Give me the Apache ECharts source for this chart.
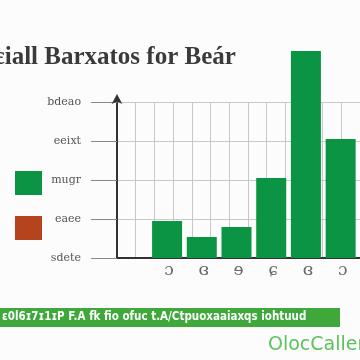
<!DOCTYPE html>
<html><head><meta charset="utf-8">
<script src="https://cdn.jsdelivr.net/npm/echarts@6/dist/echarts.min.js"></script>
<style>html,body{margin:0;padding:0;background:#fcfcfc}#c{width:360px;height:360px}</style>
</head><body><div id="c"></div>
<script>
const titleText = 'ɛiall Barxatos for Beár';
const categories = ['', 'ɔ', 'ɞ', 'ɘ', 'ɕ', 'ɞ', 'ɔ'];
const barValues = ['-', 37, 21, 31, 80, 207, 119];
const yTickLabels = ['sdete', 'eaee', 'mugr', 'eeixt', 'bdeao'];
const legendNames = ['ɡreen', 'red'];
const bannerText = 'ɛ0l6ɪ7ɪ1ɪP F.A fk fio ofuc t.A/Ctpuoxaaiaxqs iohtuud';
const brandText = 'OlocCaller';

const chart = echarts.init(document.getElementById('c'));
chart.setOption({
  backgroundColor: '#fcfcfc',
  animation: false,
  grid: { left: 117, right: 0, top: 102, bottom: 102, containLabel: false },
  legend: {
    orient: 'vertical', left: 10, top: 166, itemWidth: 27, itemHeight: 24, itemGap: 21,
    formatter: () => '', icon: 'rect', selectedMode: false,
    data: legendNames
  },
  xAxis: [{
    type: 'category', data: categories, boundaryGap: true,
    axisLine: { lineStyle: { color: '#333', width: 2 } },
    axisTick: { show: false },
    axisLabel: { color: '#666', fontSize: 17, margin: 4, fontFamily: 'DejaVu Serif' },
    splitLine: { show: false }
  }, {
    type: 'value', min: 0, max: 13, interval: 1, show: true, position: 'bottom',
    axisLine: { show: false }, axisTick: { show: false }, axisLabel: { show: false },
    splitLine: { show: true, lineStyle: { color: '#c8c8c8', width: 1 } }
  }],
  yAxis: {
    type: 'value', min: 0, max: 156, interval: 39,
    axisLine: { show: true, symbol: ['none', 'arrow'], symbolSize: [8, 10], symbolOffset: [0, 8], lineStyle: { color: '#333', width: 2 } },
    axisTick: { show: true, length: 26, lineStyle: { color: '#888' } },
    axisLabel: { color: '#555', fontSize: 11, margin: 36, fontFamily: 'DejaVu Serif',
      formatter: (v) => yTickLabels[Math.round(v / 39)] || '' },
    splitLine: { show: true, lineStyle: { color: '#c8c8c8' } }
  },
  series: [{
    name: legendNames[0], type: 'bar', data: barValues, barWidth: 30, clip: false,
    itemStyle: { color: '#0b9444' }
  }, {
    name: legendNames[1], type: 'bar', data: [], itemStyle: { color: '#b5441e' }
  }],
  graphic: [
    { type: 'text', left: -6, top: 45, style: { text: titleText, font: 'bold 25px "Liberation Serif"', fill: '#3a3a3a' } },
    { type: 'rect', shape: { x: 0, y: 308, width: 340, height: 19 }, style: { fill: '#3ea83a' } },
    { type: 'text', x: 2, y: 311, style: { text: bannerText, font: 'bold 11.5px "DejaVu Sans Condensed"', fill: '#fff' } },
    { type: 'text', x: 268, y: 336, style: { text: brandText, font: '19px "DejaVu Sans"', fill: '#5cc25c' } }
  ]
});
</script></body></html>
